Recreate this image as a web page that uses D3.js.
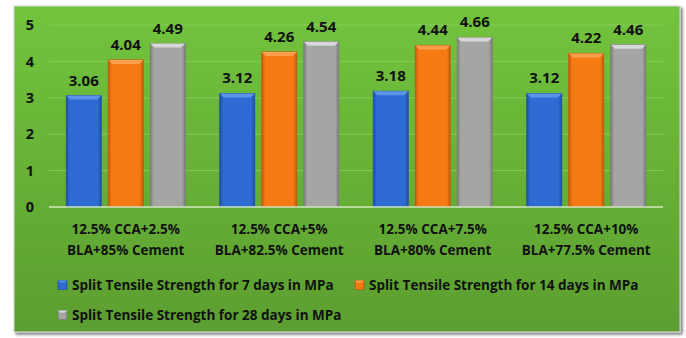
<!DOCTYPE html>
<html><head><meta charset="utf-8">
<script src="https://cdn.jsdelivr.net/npm/d3@7"></script>
<style>
html,body{margin:0;padding:0;background:#fff;}
svg{display:block;}
text{font-family:"Open Sans",Lato,sans-serif;font-weight:bold;fill:#111;}
</style></head><body>
<svg id="c" width="686" height="338"></svg>
<script>
const categories = [
  ["12.5% CCA+2.5%", "BLA+85% Cement"],
  ["12.5% CCA+5%", "BLA+82.5% Cement"],
  ["12.5% CCA+7.5%", "BLA+80% Cement"],
  ["12.5% CCA+10%", "BLA+77.5% Cement"]
];
const seriesNames = [
  "Split Tensile Strength for 7 days in MPa",
  "Split Tensile Strength for 14 days in MPa",
  "Split Tensile Strength for 28 days in MPa"
];
const days7 = [3.06, 3.12, 3.18, 3.12];
const days14 = [4.04, 4.26, 4.44, 4.22];
const days28 = [4.49, 4.54, 4.66, 4.46];
const yTicks = [0, 1, 2, 3, 4, 5];

const seriesValues = [days7, days14, days28];
const colors = [
  {main:"#2e6bd3", light:"#5d93ea", dark:"#1d4fa6"},
  {main:"#f57a14", light:"#fb9f4e", dark:"#c2590a"},
  {main:"#a5a5a5", light:"#d8d8d8", dark:"#7c7c7c"}
];

const svg = d3.select("#c");
const defs = svg.append("defs");

const bg = defs.append("linearGradient").attr("id","bg").attr("x1",0).attr("y1",0).attr("x2",0).attr("y2",1);
bg.append("stop").attr("offset","0%").attr("stop-color","#72c43d");
bg.append("stop").attr("offset","100%").attr("stop-color","#5c9e30");
const sh = defs.append("filter").attr("id","sh").attr("x","-5%").attr("y","-5%").attr("width","110%").attr("height","115%");
sh.append("feDropShadow").attr("dx",2).attr("dy",2).attr("stdDeviation",1.5).attr("flood-color","#000").attr("flood-opacity",0.55);

svg.append("rect").attr("x",14).attr("y",6).attr("width",666).attr("height",326)
  .attr("fill","url(#bg)").attr("stroke","#d9d9d9").attr("stroke-width",1).attr("filter","url(#sh)");

const plot = {left:49, right:663, top:25, bottom:207};
const y = d3.scaleLinear().domain([0,5]).range([plot.bottom, plot.top]);
const x0 = d3.scaleBand().domain(d3.range(categories.length)).range([plot.left, plot.right]).padding(0);
const x1 = d3.scaleBand().domain(d3.range(3)).range([17.25, x0.bandwidth()-17.25]).paddingInner(1/6).paddingOuter(0);

svg.append("g").selectAll("line").data(yTicks.filter(d=>d>0)).join("line")
  .attr("x1",plot.left).attr("x2",plot.right)
  .attr("y1",d=>y(d)).attr("y2",d=>y(d))
  .attr("stroke","#86cb5a").attr("stroke-width",1);

const yAxis = d3.axisLeft(y).tickValues(yTicks).tickSize(0).tickPadding(0).tickFormat(d3.format("d"));
const gy = svg.append("g").attr("transform","translate(35,0)").call(yAxis);
gy.select(".domain").remove();
gy.selectAll("text").attr("font-size",14.5).attr("text-anchor","middle").attr("dx",-5)
  .style("font-family","'Open Sans', sans-serif").style("font-weight","bold").attr("fill","#111");

colors.forEach((c,i)=>{
  const g = defs.append("linearGradient").attr("id","bar"+i).attr("x1",0).attr("x2",1).attr("y1",0).attr("y2",0);
  g.append("stop").attr("offset","0%").attr("stop-color",c.dark);
  g.append("stop").attr("offset","10%").attr("stop-color",c.main);
  g.append("stop").attr("offset","90%").attr("stop-color",c.main);
  g.append("stop").attr("offset","100%").attr("stop-color",c.dark);
});

const bars = [];
categories.forEach((cat,ci)=>{
  seriesValues.forEach((vals,si)=>{
    bars.push({ci, si, v: vals[ci]});
  });
});

const gb = svg.append("g");
const bw = x1.bandwidth();
const bevel = 4;
const barG = gb.selectAll("g.bar").data(bars).join("g").attr("class","bar")
  .attr("transform",d=>`translate(${x0(d.ci)+x1(d.si)},0)`);
barG.append("rect")
  .attr("x",0).attr("width",bw)
  .attr("y",d=>y(d.v)).attr("height",d=>y(0)-y(d.v))
  .attr("fill",d=>`url(#bar${d.si})`)
  .attr("stroke",d=>colors[d.si].dark).attr("stroke-width",0.8);
barG.append("path")
  .attr("d",d=>{const t=y(d.v);return `M0,${t} L${bw},${t} L${bw-bevel},${t+bevel} L${bevel},${t+bevel} Z`;})
  .attr("fill",d=>colors[d.si].light);
barG.append("text")
  .attr("x",bw/2).attr("y",d=>y(d.v)-10)
  .attr("text-anchor","middle").attr("font-size",15)
  .text(d=>d.v.toFixed(2));

svg.append("line").attr("x1",plot.left).attr("x2",plot.right).attr("y1",y(0)).attr("y2",y(0))
  .attr("stroke","#d4e8c2").attr("stroke-width",1.5);

const xAxis = svg.append("g");
categories.forEach((lines,ci)=>{
  const t = xAxis.append("text").attr("text-anchor","middle").attr("font-size",13.5)
    .attr("x",x0(ci)+x0.bandwidth()/2).attr("y",234);
  lines.forEach((l,li)=>t.append("tspan").attr("x",x0(ci)+x0.bandwidth()/2).attr("dy",li?21:0).text(l));
});

const legendPos = [{x:58,y:285},{x:355,y:285},{x:58,y:315}];
const lg = svg.append("g").selectAll("g").data(seriesNames).join("g")
  .attr("transform",(d,i)=>`translate(${legendPos[i].x},${legendPos[i].y})`);
lg.append("rect").attr("x",0).attr("y",-4.5).attr("width",9).attr("height",9)
  .attr("fill",(d,i)=>`url(#bar${i})`).attr("stroke",(d,i)=>colors[i].dark).attr("stroke-width",0.6);
lg.append("path").attr("d","M0,-4.5 L9,-4.5 L7,-2.5 L2,-2.5 Z").attr("fill",(d,i)=>colors[i].light);
lg.append("text").attr("x",14).attr("y",5).attr("font-size",13.5).text(d=>d);
</script>
</body></html>
